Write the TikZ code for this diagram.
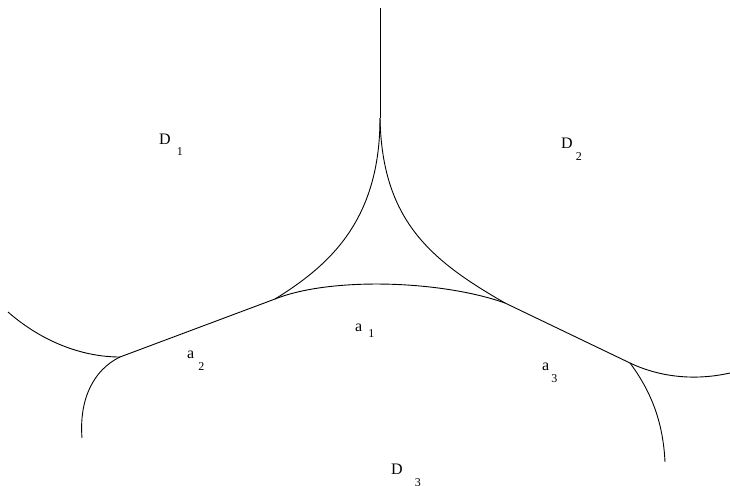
\documentclass[tikz,border=0pt]{standalone}
\usepackage{fontspec}
\setmainfont{Liberation Serif}
\newcommand{\subdig}[2]{\raisebox{#1}{\fontsize{12}{12}\selectfont #2}}
\begin{document}
\begin{tikzpicture}[x=1pt,y=-1pt,
  curve/.style={line width=0.9pt},
  lab/.style={anchor=base west, inner sep=0pt, font=\fontsize{16}{16}\selectfont}]
\useasboundingbox (0,0) rectangle (730,485);
% junction points
\coordinate (top) at (380,8);
\coordinate (cusp) at (380,118);
\coordinate (J1) at (275,299);
\coordinate (J2) at (505,303);
\coordinate (J3) at (120,357);
\coordinate (J4) at (630,363);
\coordinate (E1) at (8,312);
\coordinate (E2) at (82,438);
\coordinate (E3) at (730,373);
\coordinate (E4) at (665,462);
\draw[curve] (top) -- (cusp);
\draw[curve] (cusp) .. controls (380,220) and (330,265) .. (J1);
\draw[curve] (cusp) .. controls (382,220) and (430,260) .. (J2);
\draw[curve] (J1) .. controls (330,277) and (440,280) .. (J2);
\draw[curve] (J3) -- (J1);
\draw[curve] (J2) -- (J4);
\draw[curve] (E1) .. controls (40,340) and (80,357) .. (J3);
\draw[curve] (J3) .. controls (93,370) and (79,400) .. (E2);
\draw[curve] (J4) .. controls (655,375) and (690,382) .. (E3);
\draw[curve] (J4) .. controls (650,390) and (663,420) .. (E4);
% labels
\node[lab] (D1) at (159,144) {D\hspace{6pt}\subdig{-11pt}{1}};
\node[lab] (D2) at (561,148) {D\hspace{3pt}\subdig{-12pt}{2}};
\node[lab] (D3) at (391,474) {D\hspace{12pt}\subdig{-12pt}{3}};
\node[lab] (a1) at (355,331) {a\hspace{6pt}\subdig{-6pt}{1}};
\node[lab] (a2) at (187,358) {a\hspace{4pt}\subdig{-12pt}{2}};
\node[lab] (a3) at (542,370) {a\hspace{2pt}\subdig{-12pt}{3}};
\end{tikzpicture}
\end{document}
